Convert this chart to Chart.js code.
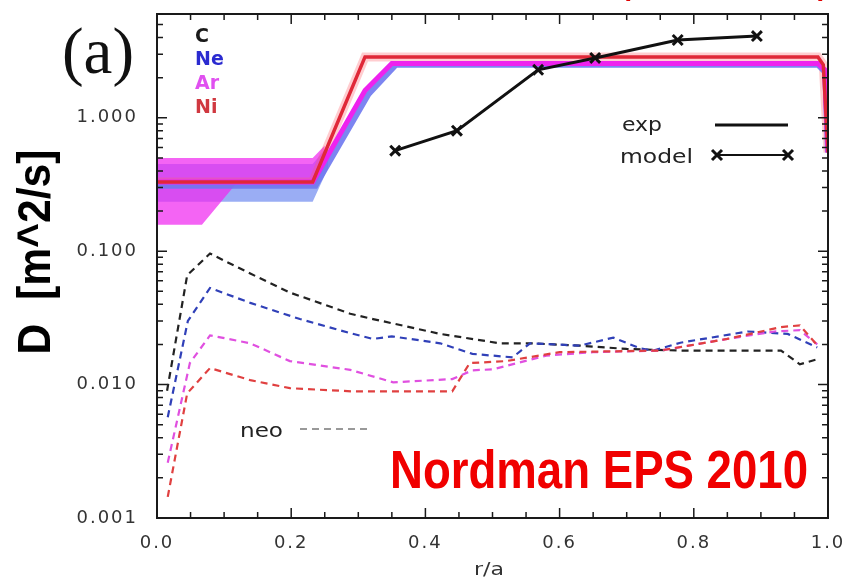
<!DOCTYPE html>
<html>
<head>
<meta charset="utf-8">
<script src="https://cdn.jsdelivr.net/npm/chart.js@4.4.1/dist/chart.umd.min.js"></script>
<style>
  html, body { margin: 0; padding: 0; background: #ffffff; }
  #wrap { width: 850px; height: 577px; }
</style>
</head>
<body>
<div id="wrap"><canvas id="c" width="850" height="577"></canvas></div>
<script>
// ---------------- data ----------------
const xTickLabels = ['0.0', '0.2', '0.4', '0.6', '0.8', '1.0'];
const yTickLabels = ['0.001', '0.010', '0.100', '1.000'];
const speciesNames = ['C', 'Ne', 'Ar', 'Ni'];

// modelled / experimental transport-coefficient profiles (solid)
const niModelR = [0, 0.232, 0.31, 0.985, 0.993, 1.0];
const niModelD = [0.33, 0.33, 2.86, 2.86, 2.5, 0.55];
const arModelR = [0, 0.232, 0.31, 0.35, 0.985, 0.995, 1.0];
const arModelD = [0.33, 0.33, 1.6, 2.55, 2.55, 2.3, 0.55];
const neModelR = [0, 0.236, 0.315, 0.356, 0.985, 0.996, 1.0];
const neModelD = [0.31, 0.31, 1.5, 2.5, 2.5, 2.2, 0.55];

// uncertainty bands at the core
const neBandR = [0, 0.232, 0.255];
const neBandHi = [0.45, 0.45, 0.62];
const neBandLo = [0.235, 0.235, 0.42];
const arBandR = [0, 0.067, 0.12, 0.232, 0.25];
const arBandHi = [0.5, 0.5, 0.5, 0.5, 0.62];
const arBandLo = [0.158, 0.158, 0.33, 0.33, 0.45];

// model points (crosses)
const crossR = [0.355, 0.447, 0.568, 0.653, 0.776, 0.894];
const crossD = [0.567, 0.80, 2.29, 2.81, 3.83, 4.1];

// neoclassical (dashed)
const neoCR = [0.015, 0.045, 0.079, 0.139, 0.198, 0.288, 0.322, 0.422, 0.511, 0.556, 0.63, 0.70, 0.78, 0.93, 0.958, 0.984];
const neoCD = [0.009, 0.066, 0.096, 0.068, 0.049, 0.034, 0.031, 0.024, 0.0204, 0.0204, 0.0196, 0.0185, 0.018, 0.018, 0.0142, 0.0155];
const neoNeR = [0.016, 0.046, 0.079, 0.139, 0.213, 0.288, 0.322, 0.35, 0.422, 0.47, 0.53, 0.556, 0.63, 0.68, 0.72, 0.74, 0.78, 0.88, 0.94, 0.984];
const neoNeD = [0.0057, 0.030, 0.053, 0.041, 0.031, 0.0243, 0.022, 0.023, 0.0204, 0.017, 0.016, 0.0204, 0.0196, 0.0225, 0.0187, 0.018, 0.0206, 0.025, 0.024, 0.019];
const neoArR = [0.016, 0.049, 0.079, 0.139, 0.198, 0.288, 0.352, 0.44, 0.47, 0.5, 0.58, 0.65, 0.75, 0.85, 0.92, 0.958, 0.984];
const neoArD = [0.0026, 0.0145, 0.0234, 0.0204, 0.015, 0.0129, 0.0104, 0.011, 0.0128, 0.013, 0.0165, 0.0175, 0.018, 0.022, 0.025, 0.0256, 0.020];
const neoNiR = [0.016, 0.045, 0.079, 0.139, 0.198, 0.29, 0.44, 0.466, 0.52, 0.6, 0.75, 0.85, 0.93, 0.958, 0.984];
const neoNiD = [0.00144, 0.0086, 0.0133, 0.0108, 0.0094, 0.0089, 0.0089, 0.0145, 0.015, 0.0175, 0.018, 0.022, 0.027, 0.0278, 0.0197];

// ---------------- helpers ----------------
const pts = (r, d) => r.map((x, i) => ({ x: x, y: d[i] }));

const COL = {
  C: '#1a1a1a', Ne: '#2f3fc0', Ar: '#e040e0', Ni: '#e02838',
  neoC: '#222222', neoNe: '#3040b8', neoAr: '#e050e0', neoNi: '#e04040'
};

function fitText(ctx, text, x, y, font, color, width) {
  ctx.save();
  ctx.font = font;
  ctx.textAlign = 'left';
  ctx.textBaseline = 'alphabetic';
  const w = ctx.measureText(text).width;
  const s = width ? width / w : 1;
  ctx.translate(x, y);
  ctx.scale(s, 1);
  ctx.fillStyle = color;
  ctx.fillText(text, 0, 0);
  ctx.restore();
}

function drawCross(ctx, x, y, h) {
  ctx.beginPath();
  ctx.moveTo(x - h, y - h); ctx.lineTo(x + h, y + h);
  ctx.moveTo(x + h, y - h); ctx.lineTo(x - h, y + h);
  ctx.stroke();
}

const noPad = (s) => { s.paddingTop = 0; s.paddingBottom = 0; s.paddingLeft = 0; s.paddingRight = 0; };

const decorPlugin = {
  id: 'decor',
  beforeDraw(chart) {
    chart.ctx.letterSpacing = '2px';
  },
  afterDraw(chart) {
    const ctx = chart.ctx;
    ctx.letterSpacing = '0px';
    const a = chart.chartArea;
    const xs = chart.scales.x, ys = chart.scales.y;

    // frame
    ctx.save();
    ctx.strokeStyle = '#1a1a1a';
    ctx.lineWidth = 2;
    ctx.strokeRect(a.left, a.top, a.right - a.left, a.bottom - a.top);

    // inward tick marks (gnuplot style)
    ctx.lineWidth = 1.5;
    ctx.beginPath();
    for (let k = -3; k <= 0; k++) {
      for (let m = 1; m <= 9; m++) {
        const v = m * Math.pow(10, k);
        if (v > ys.max) continue;
        const py = ys.getPixelForValue(v);
        const len = m === 1 ? 10 : 6;
        ctx.moveTo(a.left, py); ctx.lineTo(a.left + len, py);
        ctx.moveTo(a.right, py); ctx.lineTo(a.right - len, py);
      }
    }
    for (let i = 0; i <= 20; i++) {
      const v = i * 0.05;
      const px = xs.getPixelForValue(v);
      const len = (i % 4 === 0) ? 10 : 6;
      ctx.moveTo(px, a.bottom); ctx.lineTo(px, a.bottom - len);
      ctx.moveTo(px, a.top); ctx.lineTo(px, a.top + len);
    }
    ctx.stroke();
    ctx.restore();

    // "(a)"
    fitText(ctx, '(a)', 62, 73, '66px "Liberation Serif", "DejaVu Serif", serif', '#111', 72);

    // y axis title, rotated
    ctx.save();
    ctx.font = 'bold 46px "Liberation Sans Narrow", "Liberation Sans", Roboto, sans-serif';
    const yt = 'D  [m^2/s]';
    const w = ctx.measureText(yt).width;
    ctx.translate(50, 252);
    ctx.rotate(-Math.PI / 2);
    ctx.scale(205 / w, 1);
    ctx.fillStyle = '#000';
    ctx.textAlign = 'center';
    ctx.textBaseline = 'alphabetic';
    ctx.fillText(yt, 0, 0);
    ctx.restore();

    // x axis title
    fitText(ctx, 'r/a', 474, 575, '18px "DejaVu Sans", sans-serif', '#333', 30);

    // species key
    const spCols = [COL.C, '#2b2bd0', '#e050f0', '#d03840'];
    const spBase = [42, 65, 89, 113];
    speciesNames.forEach((s, i) => {
      fitText(ctx, s, 195, spBase[i], 'bold 19px "DejaVu Sans", sans-serif', spCols[i], null);
    });

    // exp / model key
    fitText(ctx, 'exp', 622, 131, '20px "DejaVu Sans", sans-serif', '#222', 40);
    fitText(ctx, 'model', 620, 163, '20px "DejaVu Sans", sans-serif', '#222', 73);
    ctx.save();
    ctx.strokeStyle = '#111';
    ctx.lineWidth = 3;
    ctx.beginPath(); ctx.moveTo(715, 125); ctx.lineTo(788, 125); ctx.stroke();
    ctx.lineWidth = 2;
    ctx.beginPath(); ctx.moveTo(716, 155); ctx.lineTo(788, 155); ctx.stroke();
    ctx.lineWidth = 3;
    drawCross(ctx, 717, 155, 5);
    drawCross(ctx, 788, 155, 5);
    ctx.restore();

    // neo key
    fitText(ctx, 'neo', 240, 437, '20px "DejaVu Sans", sans-serif', '#222', 43);
    ctx.save();
    ctx.strokeStyle = '#999';
    ctx.lineWidth = 2;
    ctx.setLineDash([7, 5]);
    ctx.beginPath(); ctx.moveTo(300, 429); ctx.lineTo(370, 429); ctx.stroke();
    ctx.restore();

    // red annotation
    fitText(ctx, 'Nordman EPS 2010', 390, 488,
      'bold 53px "Liberation Sans Narrow", "Liberation Sans", Roboto, sans-serif', '#f00000', 418);

    // clipped red text remains at the very top
    fitText(ctx, ')', 626, -5, 'bold 28px "Liberation Sans", sans-serif', '#e00000', null);
    fitText(ctx, ')', 818, -5, 'bold 28px "Liberation Sans", sans-serif', '#e00000', null);
  }
};

const lineDs = (label, data, color, width, order, extra) => Object.assign({
  label: label, data: data, borderColor: color, backgroundColor: color,
  borderWidth: width, pointRadius: 0, tension: 0, fill: false, order: order
}, extra || {});

const datasets = [
  // 0,1: Ne band
  lineDs('Ne band hi', pts(neBandR, neBandHi), 'rgba(0,0,0,0)', 0, 20),
  lineDs('Ne band lo', pts(neBandR, neBandLo), 'rgba(0,0,0,0)', 0, 20,
    { fill: '-1', backgroundColor: 'rgba(120,145,240,0.75)' }),
  // 2,3: Ar band
  lineDs('Ar band hi', pts(arBandR, arBandHi), 'rgba(0,0,0,0)', 0, 19),
  lineDs('Ar band lo', pts(arBandR, arBandLo), 'rgba(0,0,0,0)', 0, 19,
    { fill: '-1', backgroundColor: 'rgba(240,40,240,0.72)' }),
  // neo dashed
  lineDs('neo C', pts(neoCR, neoCD), COL.neoC, 2.2, 10, { borderDash: [7, 5] }),
  lineDs('neo Ne', pts(neoNeR, neoNeD), COL.neoNe, 2.2, 9, { borderDash: [7, 5] }),
  lineDs('neo Ar', pts(neoArR, neoArD), COL.neoAr, 2.2, 8, { borderDash: [7, 5] }),
  lineDs('neo Ni', pts(neoNiR, neoNiD), COL.neoNi, 2.2, 7, { borderDash: [7, 5] }),
  // model profiles
  lineDs('Ni glow', pts(niModelR, niModelD), 'rgba(255,90,100,0.3)', 9, 6),
  lineDs('Ne', pts(neModelR, neModelD), 'rgba(110,120,240,0.9)', 6, 5),
  lineDs('Ar', pts(arModelR, arModelD), '#ee22ee', 5, 4),
  lineDs('Ni', pts(niModelR, niModelD), COL.Ni, 3.5, 3),
  // crosses
  lineDs('model', pts(crossR, crossD), '#111', 3, 1,
    { pointStyle: 'crossRot', pointRadius: 7, pointBorderWidth: 3, pointBorderColor: '#111' })
];

new Chart(document.getElementById('c'), {
  type: 'line',
  data: { datasets: datasets },
  options: {
    responsive: false,
    animation: false,
    devicePixelRatio: 1,
    layout: { padding: { left: 0, right: 22, top: 14, bottom: 0 } },
    plugins: { legend: { display: false }, tooltip: { enabled: false } },
    scales: {
      x: {
        type: 'linear', min: 0, max: 1,
        grid: { display: false },
        border: { display: false },
        afterFit: (s) => { s.height = 59; noPad(s); },
        ticks: {
          stepSize: 0.2, padding: 7, color: '#333',
          font: { family: '"DejaVu Sans", sans-serif', size: 18 },
          callback: (v) => {
            const lbl = xTickLabels.find(t => Math.abs(parseFloat(t) - v) < 1e-6);
            return lbl || '';
          }
        }
      },
      y: {
        type: 'logarithmic', min: 0.001, max: 6,
        grid: { display: false },
        border: { display: false },
        afterFit: (s) => { s.width = 157; noPad(s); },
        ticks: {
          autoSkip: false, padding: 11, color: '#333',
          font: { family: '"DejaVu Sans", sans-serif', size: 18 },
          callback: (v) => {
            const lbl = yTickLabels.find(t => Math.abs(parseFloat(t) - v) / v < 1e-6);
            return lbl || '';
          }
        }
      }
    }
  },
  plugins: [decorPlugin]
});
</script>
</body>
</html>
